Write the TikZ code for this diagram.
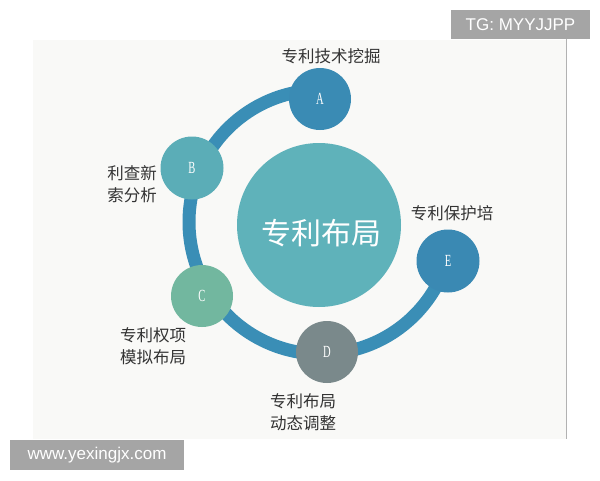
\documentclass[tikz,border=0pt]{standalone}
\usepackage{fontspec}
\setmainfont{Liberation Serif}
\newfontfamily\cjk{Noto Sans CJK SC}
\newfontfamily\wmfont{Liberation Sans}
\usetikzlibrary{calc}
\definecolor{panelc}{HTML}{F9F9F7}
\definecolor{ringc}{HTML}{3A8EB6}
\definecolor{colA}{HTML}{3A8BB4}
\definecolor{colB}{HTML}{5BADB7}
\definecolor{colC}{HTML}{72B79F}
\definecolor{colD}{HTML}{7A898B}
\definecolor{colE}{HTML}{3A89B3}
\definecolor{colM}{HTML}{5FB2BA}
\definecolor{labc}{HTML}{333333}
\definecolor{wmc}{HTML}{A5A5A5}
\tikzset{
  bub/.style={circle, minimum size=62pt, inner sep=0pt, text=white,
    font=\fontsize{17}{17}\selectfont},
  lab/.style={text=labc, align=center, inner sep=0pt,
    font=\cjk\fontsize{16.5}{22}\selectfont},
  wm/.style={fill=wmc, text=white, inner sep=0pt,
    font=\wmfont\fontsize{17}{17}\selectfont}
}
\newcommand{\narrow}[1]{\scalebox{0.62}[1]{#1}}
\begin{document}
\begin{tikzpicture}[x=1pt,y=-1pt]
\useasboundingbox (0,0) rectangle (600,480);
\fill[white] (0,0) rectangle (600,480);
\fill[panelc] (33,40) rectangle (566,439);
\draw[black!30, line width=1pt] (566,39) -- (566,439);
% ring
\coordinate (O) at (321,222);
\coordinate (r0) at ($(O)+(-92:132)$);
\draw[ringc, line width=13pt] (r0) arc[start angle=-92, end angle=-341, radius=132];
% circles
\node[circle, fill=colM, minimum size=164pt, inner sep=0pt] (M) at (319,225) {};
\node[text=white, font=\cjk\fontsize{30}{30}\selectfont, inner sep=0pt] (Mt) at (321,233) {专利布局};
\node[bub, fill=colA] (A) at (320,99) {\narrow{A}};
\node[bub, fill=colB, minimum size=63pt] (B) at (192,168) {\narrow{B}};
\node[bub, fill=colC] (C) at (202,296) {\narrow{C}};
\node[bub, fill=colD] (D) at (327,352) {\narrow{D}};
\node[bub, fill=colE, minimum size=63pt] (E) at (448,261) {\narrow{E}};
% labels
\node[lab] (la) at (331,56) {专利技术挖掘};
\node[lab] (lb) at (132,184.5) {利查新\\索分析};
\node[lab] (le) at (452,213) {专利保护培};
\node[lab] (lc) at (153,346) {专利权项\\模拟布局};
\node[lab] (ld) at (303,412) {专利布局\\动态调整};
% watermarks
\node[wm, minimum width=139pt, minimum height=29pt] (w1) at (520.5,24.5) {TG: MYYJJPP};
\node[wm, minimum width=174pt, minimum height=30pt] (w2) at (97,455) {www.yexingjx.com};
\end{tikzpicture}
\end{document}
